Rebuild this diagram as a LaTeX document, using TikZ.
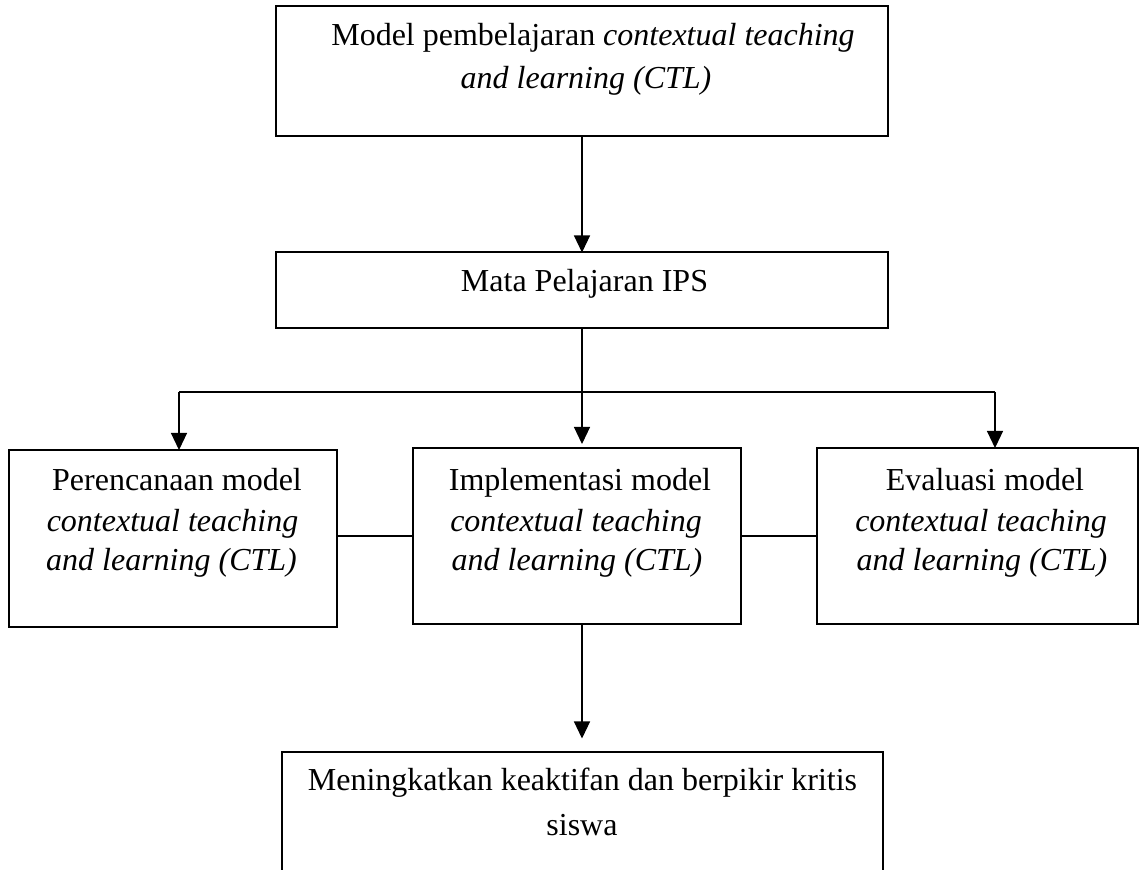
\documentclass[tikz,border=0pt]{standalone}
\usepackage{fontspec}
\setmainfont{Liberation Serif}
\usetikzlibrary{arrows.meta}
\begin{document}
\begin{tikzpicture}[x=0.5pt,y=-0.5pt,
  box/.style={draw=black,line width=1pt,rectangle,inner sep=0pt,outer sep=0pt},
  txt/.style={anchor=base,inner sep=0pt,outer sep=0pt,font=\fontsize{16}{19}\selectfont},
  conn/.style={draw=black,line width=0.6pt},
  arr/.style={conn,-{Triangle[length=8.5pt,width=8pt]}}]
\useasboundingbox (0,0) rectangle (1140,870);
\clip (0,0) rectangle (1140,870);
% boxes
\node[box,minimum width=306pt,minimum height=65pt] (top) at (582,71) {};
\node[box,minimum width=306pt,minimum height=38pt] (mata) at (582,290.5) {};
\node[box,minimum width=164pt,minimum height=88.5pt] (left) at (173,538.5) {};
\node[box,minimum width=164pt,minimum height=88pt] (mid) at (577,536) {};
\node[box,minimum width=160.5pt,minimum height=88pt] (right) at (977.5,536) {};
\node[box,minimum width=300.5pt,minimum height=69pt] (bot) at (582.5,820.5) {};
% texts
\node[txt] (topa) at (593,46) {Model pembelajaran \textit{contextual teaching}};
\node[txt] (topb) at (586,89) {\textit{and learning (CTL)}};
\node[txt] (matat) at (584.5,292) {Mata Pelajaran IPS};
\node[txt] (lefta) at (177,491) {Perencanaan model};
\node[txt] (leftb) at (172.5,532) {\textit{contextual teaching}};
\node[txt] (leftc) at (171.5,571) {\textit{and learning (CTL)}};
\node[txt] (mida) at (580,491) {Implementasi model};
\node[txt] (midb) at (576,532) {\textit{contextual teaching}};
\node[txt] (midc) at (577,571) {\textit{and learning (CTL)}};
\node[txt] (righta) at (985,491) {Evaluasi model};
\node[txt] (rightb) at (981,532) {\textit{contextual teaching}};
\node[txt] (rightc) at (982,571) {\textit{and learning (CTL)}};
\node[txt] (bota) at (582.5,791) {Meningkatkan keaktifan dan berpikir kritis};
\node[txt] (botb) at (582,835) {siswa};
% connectors
\draw[arr] (top.south) -- (mata.north);
\draw[arr,shorten >=2pt] (mata.south) -- (mata.south |- mid.north);
\coordinate (hl) at (179,392);
\coordinate (hr) at (995,392);
\draw[conn] (hl) -- (hr);
\draw[arr] (hl) -- (hl |- left.north);
\draw[arr] (hr) -- (hr |- right.north);
\draw[conn] (mid.west) -- (mid.west -| left.east);
\draw[conn] (mid.east) -- (mid.east -| right.west);
\draw[arr,shorten >=6.5pt] (mid.south -| mata.south) -- (bot.north -| mata.south);
\end{tikzpicture}
\end{document}
